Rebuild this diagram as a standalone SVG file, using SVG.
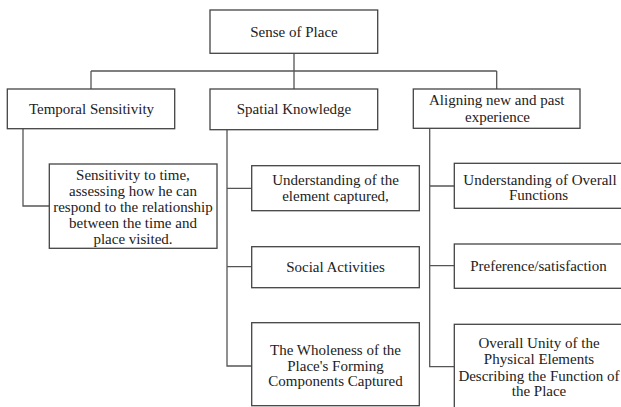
<svg xmlns="http://www.w3.org/2000/svg" width="621" height="407" viewBox="0 0 621 407">
<style>
.box{fill:#fff;stroke:#444;stroke-width:1.3}
.ln{fill:none;stroke:#555;stroke-width:1.3}
text{font-family:"Liberation Serif","DejaVu Serif",serif;font-size:15px;fill:#222;text-anchor:middle}
</style>
<rect width="621" height="407" fill="#fff"/>
<g id="connectors">
<path class="ln" d="M294,53.3V71M91,71H496.7M91,71V89M294,71V89M496.7,71V89"/>
<path class="ln" d="M23,128.7V206H49.3"/>
<path class="ln" d="M227,129.7V366H251.7M227,188.3H251.7M227,266.7H251.7"/>
<path class="ln" d="M429.7,128.3V366.7H454.3M429.7,186H454.3M429.7,265.7H454.3"/>
</g>
<g id="sense">
<rect class="box" x="210" y="10" width="167.7" height="43.3"/>
<text x="294" y="37">Sense of Place</text>
</g>
<g id="temporal">
<rect class="box" x="7.3" y="89" width="167.4" height="39.7"/>
<text x="91.5" y="113.5">Temporal Sensitivity</text>
</g>
<g id="spatial">
<rect class="box" x="210" y="89" width="167.7" height="40.7"/>
<text x="294" y="113.5">Spatial Knowledge</text>
</g>
<g id="aligning">
<rect class="box" x="413.3" y="89" width="166.7" height="39.3"/>
<text x="496.7" y="105">Aligning new and past</text>
<text x="497.5" y="121.5">experience</text>
</g>
<g id="sensitivity">
<rect class="box" x="49.3" y="164" width="167.7" height="84.3"/>
<text x="133" y="180">Sensitivity to time,</text>
<text x="133" y="196">assessing how he can</text>
<text x="133" y="212">respond to the relationship</text>
<text x="133" y="228">between the time and</text>
<text x="133" y="243.5">place visited.</text>
</g>
<g id="understanding-element">
<rect class="box" x="251.7" y="165.7" width="167.6" height="45"/>
<text x="335.5" y="185">Understanding of the</text>
<text x="335.5" y="200.5">element captured,</text>
</g>
<g id="social">
<rect class="box" x="251.7" y="246.7" width="167.6" height="41"/>
<text x="335.5" y="271.5">Social Activities</text>
</g>
<g id="wholeness">
<rect class="box" x="251.7" y="322.7" width="167.6" height="83"/>
<text x="335.5" y="354.5">The Wholeness of the</text>
<text x="335.5" y="370.5">Place's Forming</text>
<text x="335.5" y="386">Components Captured</text>
</g>
<g id="understanding-overall">
<rect class="box" x="454.3" y="163.3" width="170" height="45"/>
<text x="540" y="185">Understanding of Overall</text>
<text x="538.5" y="199.5">Functions</text>
</g>
<g id="preference">
<rect class="box" x="454.3" y="244" width="170" height="44.3"/>
<text x="538.5" y="271">Preference/satisfaction</text>
</g>
<g id="unity">
<rect class="box" x="454.3" y="324.3" width="170" height="90"/>
<text x="539" y="347.5">Overall Unity of the</text>
<text x="539" y="364">Physical Elements</text>
<text x="539" y="380.5">Describing the Function of</text>
<text x="539" y="395.5">the Place</text>
</g>
</svg>
